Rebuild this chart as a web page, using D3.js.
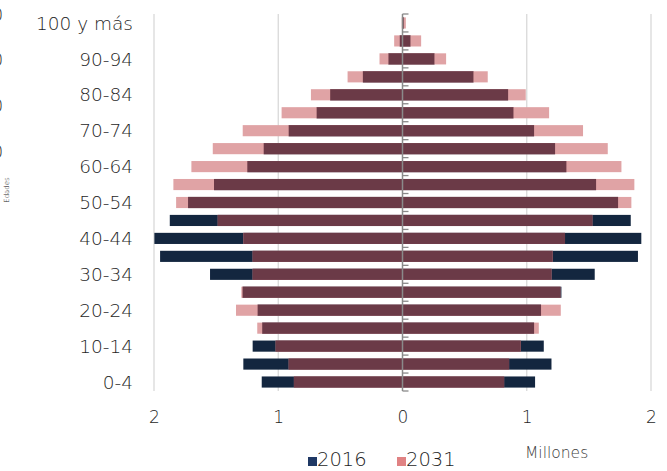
<!DOCTYPE html>
<html>
<head>
<meta charset="utf-8">
<script src="https://cdn.jsdelivr.net/npm/d3@7"></script>
<style>
  body { margin: 0; background: #fff; }
  svg text { font-family: "DejaVu Sans", sans-serif; font-weight: 200; fill: #1e1e1e; }
</style>
</head>
<body>
<svg id="pyramid" width="667" height="471"></svg>
<script>
/* age groups, bottom to top */
var ageGroups = ["0-4","5-9","10-14","15-19","20-24","25-29","30-34","35-39","40-44","45-49",
                 "50-54","55-59","60-64","65-69","70-74","75-79","80-84","85-89","90-94","95-99","100 y más"];
var ageLabels = ["0-4","10-14","20-24","30-34","40-44","50-54","60-64","70-74","80-84","90-94","100 y más"];

/* millions, left side of the pyramid */
var left2016 = [1.133,1.281,1.206,1.129,1.166,1.287,1.549,1.951,1.997,1.873,
                1.726,1.517,1.249,1.117,0.916,0.691,0.582,0.319,0.113,0.022,0.003];
var left2031 = [0.874,0.916,1.021,1.169,1.340,1.297,1.206,1.206,1.281,1.487,
                1.822,1.844,1.699,1.527,1.286,0.973,0.737,0.442,0.185,0.067,0.006];
/* millions, right side */
var right2016 = [1.067,1.199,1.137,1.059,1.115,1.279,1.547,1.895,1.922,1.837,
                 1.735,1.558,1.319,1.228,1.059,0.893,0.850,0.571,0.257,0.064,0.010];
var right2031 = [0.818,0.858,0.952,1.097,1.274,1.271,1.199,1.209,1.308,1.528,
                 1.842,1.866,1.762,1.652,1.453,1.180,0.992,0.686,0.351,0.150,0.027];

var xTicks = [-2,-1,0,1,2];
var seriesNames = ["2016","2031"];

var navy = "#13263f", pink = "#e0a3a5", maroon = "#6b3a47";

var svg = d3.select("#pyramid");

var xScale = d3.scaleLinear().domain([-2,2]).range([154,651]);
var yScale = d3.scaleBand()
    .domain(ageGroups)
    .range([391,14])
    .paddingInner(0.38)
    .paddingOuter(0.19);

/* gridlines */
svg.append("g").selectAll("line")
  .data(xTicks.filter(function(d){ return d !== 0; }))
  .enter().append("line")
    .attr("x1", function(d){ return xScale(d); })
    .attr("x2", function(d){ return xScale(d); })
    .attr("y1", 14).attr("y2", 391)
    .attr("stroke", "#d9d9d9").attr("stroke-width", 1.3);

/* rows: each side = 2016 bar, 2031 bar, overlap on top */
var rows = ageGroups.map(function(g,i){
  return {age:g, l16:left2016[i], l31:left2031[i], r16:right2016[i], r31:right2031[i]};
});

function drawSide(sign, k16, k31){
  var g = svg.append("g");
  function bar(val, color){
    g.append("g").selectAll("rect")
      .data(rows).enter().append("rect")
        .attr("x", function(d){ return sign < 0 ? xScale(-val(d)) : xScale(0); })
        .attr("width", function(d){ return Math.abs(xScale(val(d)) - xScale(0)); })
        .attr("y", function(d){ return yScale(d.age); })
        .attr("height", yScale.bandwidth())
        .attr("fill", color);
  }
  bar(function(d){ return d[k16]; }, navy);
  bar(function(d){ return d[k31]; }, pink);
  bar(function(d){ return Math.min(d[k16], d[k31]); }, maroon);
}
drawSide(-1, "l16", "l31");
drawSide(1, "r16", "r31");

/* zero axis with small ticks at band edges */
var step = yScale.step();
var edges = ageGroups.map(function(g){ return yScale(g) + yScale.bandwidth() + (step - yScale.bandwidth())/2; });
edges.push(yScale(ageGroups[ageGroups.length-1]) - (step - yScale.bandwidth())/2);
var zeroAxis = svg.append("g").attr("stroke", "#8a8a8a");
zeroAxis.append("line")
  .attr("x1", xScale(0)).attr("x2", xScale(0))
  .attr("y1", d3.min(edges)).attr("y2", d3.max(edges))
  .attr("stroke-width", 1.5);
zeroAxis.selectAll(".tk").data(edges).enter().append("line")
  .attr("class","tk")
  .attr("x1", xScale(0)).attr("x2", xScale(0) + 6)
  .attr("y1", function(d){ return d; }).attr("y2", function(d){ return d; })
  .attr("stroke-width", 1.3);

/* age labels */
svg.append("g").selectAll("text")
  .data(ageLabels).enter().append("text")
    .attr("x", 133)
    .attr("y", function(d){ return yScale(d) + yScale.bandwidth()/2; })
    .attr("dy", "0.36em")
    .attr("text-anchor", "end")
    .style("font-size", "18.5px")
    .text(function(d){ return d; });

/* x axis labels */
var xAxis = d3.axisBottom(xScale)
    .tickValues(xTicks)
    .tickSize(0)
    .tickPadding(0)
    .tickFormat(function(d){ return Math.abs(d); });
var xAxisG = svg.append("g").attr("transform", "translate(0,411)").call(xAxis);
xAxisG.select(".domain").remove();
xAxisG.selectAll("text").attr("fill", "#1e1e1e").style("font-size", "17px");

/* units */
svg.append("text").attr("x", 525).attr("y", 458)
  .style("font-size", "15.5px").style("fill", "#404040")
  .text("Millones");

/* legend */
var legend = svg.append("g");
var legendX = [308, 397];
var legendColor = ["#1f3864", "#e08283"];
seriesNames.forEach(function(s,i){
  legend.append("rect").attr("x", legendX[i]).attr("y", 457).attr("width", 9).attr("height", 9)
    .attr("fill", legendColor[i]);
  legend.append("text").attr("x", legendX[i] + 9).attr("y", 466)
    .style("font-size", "19.5px").text(s);
});

/* clipped remnants at the left edge */
svg.append("g").selectAll("text")
  .data([15, 60, 106, 152]).enter().append("text")
    .attr("x", 3).attr("y", function(d){ return d; }).attr("dy","0.35em")
    .attr("text-anchor","end").style("font-size","17px").text("0");
svg.append("text")
  .attr("transform", "translate(9,190) rotate(-90)")
  .attr("text-anchor","middle").style("font-size","7px").text("Edades");
</script>
</body>
</html>
